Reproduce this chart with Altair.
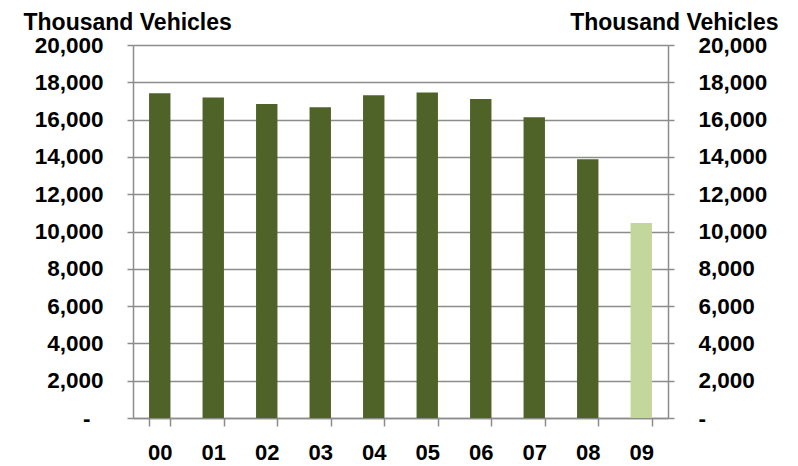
import altair as alt
import pandas as pd

# ---- data ----
years = ["00", "01", "02", "03", "04", "05", "06", "07", "08", "09"]
sales = [17410, 17190, 16840, 16660, 17300, 17450, 17100, 16120, 13870, 10460]
kind = ["actual"] * 9 + ["forecast"]
tick_values = [0, 2000, 4000, 6000, 8000, 10000, 12000, 14000, 16000, 18000, 20000]
axis_title = "Thousand Vehicles"

df = pd.DataFrame({"year": years, "sales": sales, "kind": kind})

FONT = "Liberation Sans"
GRAY = "#8C8C8C"
y_scale = alt.Scale(domain=[0, 20000], nice=False, zero=True)

x_enc = alt.X(
    "year:N",
    sort=years,
    scale=alt.Scale(paddingInner=0.6, paddingOuter=0.3),
    axis=alt.Axis(
        title=None,
        labelFont=FONT,
        labelFontSize=22,
        labelFontWeight="bold",
        labelColor="black",
        labelAngle=0,
        labelPadding=16,
        tickBand="extent",
        tickSize=8,
        tickColor=GRAY,
        tickWidth=1.5,
        domainColor=GRAY,
        domainWidth=1.5,
    ),
)

common_axis = dict(
    values=tick_values,
    labelExpr="datum.value == 0 ? '-' : format(datum.value, ',')",
    labelFont=FONT,
    labelFontSize=22.5,
    labelFontWeight="bold",
    labelColor="black",
    tickSize=6,
    tickColor=GRAY,
    tickWidth=1.5,
    domainColor=GRAY,
    domainWidth=1.5,
    title=axis_title,
    titleFont=FONT,
    titleFontSize=23,
    titleFontWeight="bold",
    titleColor="black",
    titleAngle=0,
    titleY=-16,
    titleBaseline="alphabetic",
)

left_axis = alt.Axis(
    orient="left",
    grid=True,
    gridColor=GRAY,
    gridWidth=1.5,
    labelPadding={"condition": {"test": "datum.value === 0", "value": 37}, "value": 24},
    titleX=-110,
    titleAlign="left",
    **common_axis,
)

right_axis = alt.Axis(
    orient="right",
    grid=False,
    labelPadding=24,
    titleX=110,
    titleAlign="right",
    **common_axis,
)

bars = alt.Chart(df).mark_bar().encode(
    x=x_enc,
    y=alt.Y("sales:Q", scale=y_scale, axis=left_axis),
    color=alt.Color(
        "kind:N",
        scale=alt.Scale(domain=["actual", "forecast"], range=["#4F6228", "#C3D69B"]),
        legend=None,
    ),
)

ghost = alt.Chart(df).mark_bar(opacity=0).encode(
    x=x_enc,
    y=alt.Y("sales:Q", scale=y_scale, axis=right_axis),
)

chart = (
    alt.layer(bars, ghost)
    .resolve_scale(y="independent")
    .properties(
        width=535,
        height=373,
        padding={"left": 125, "top": 37, "right": 122, "bottom": 50},
        autosize=alt.AutoSizeParams(type="none"),
    )
    .configure_view(strokeWidth=0)
)

chart.save("out.html", embed_options={"renderer": "svg", "actions": False})
